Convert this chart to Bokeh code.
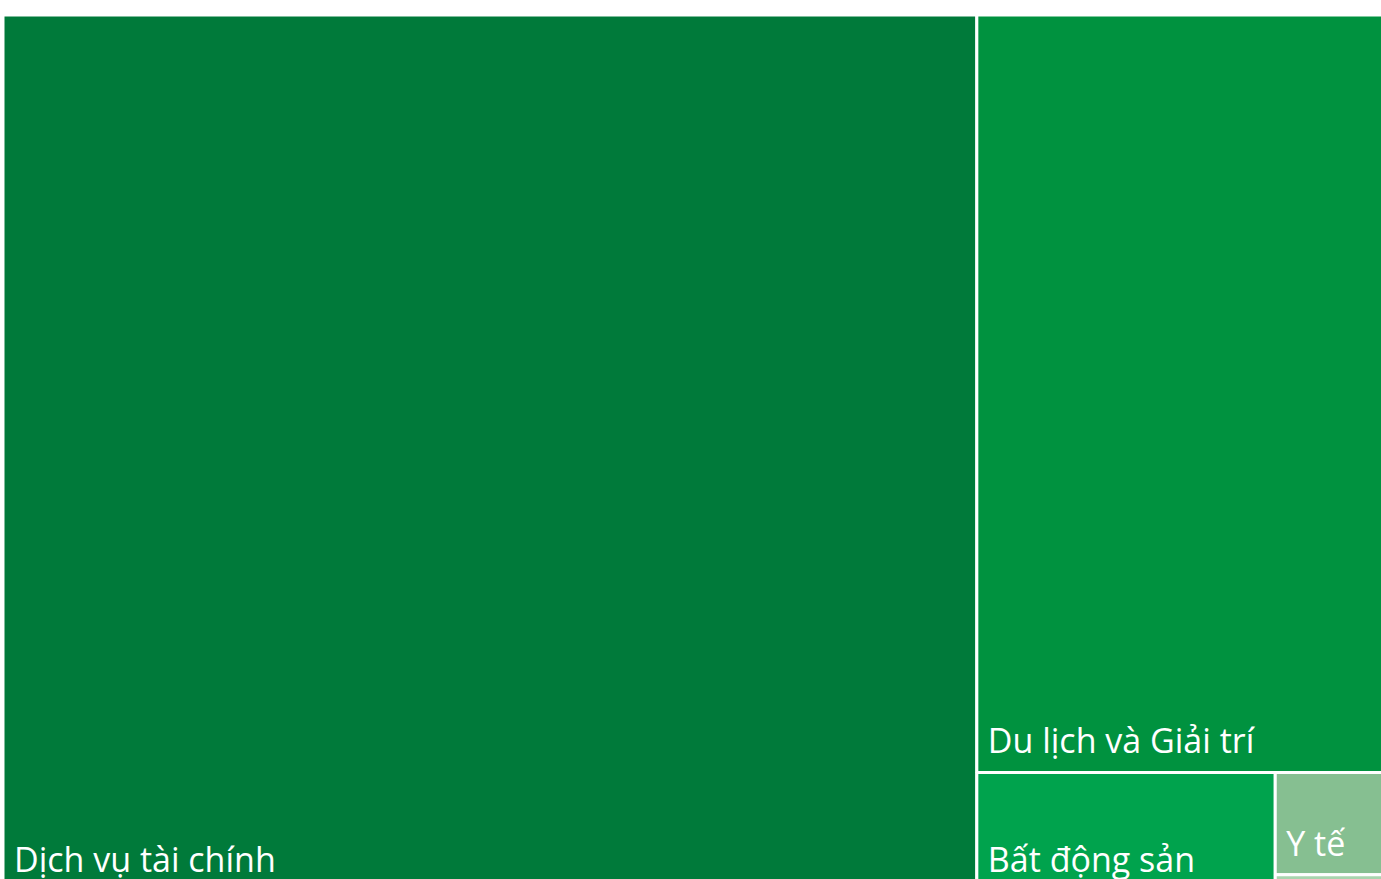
from bokeh.plotting import figure
from bokeh.models import ColumnDataSource, Range1d
from bokeh.core.properties import value
from bokeh.embed import file_html
from bokeh.resources import INLINE

# ---- data (share, %) ----
categories = ["Dịch vụ tài chính", "Du lịch và Giải trí", "Bất động sản", "Y tế", "Khác"]
shares = [70.2, 25.8, 2.9, 0.97, 0.15]
colors = ["#007a3a", "#00923f", "#00a34d", "#86bf91", "#a9d4ae"]

# ---- treemap layout (squarified) ----
BOX = (2.5, 14.5, 1390.0, 890.0)  # left, top, right, bottom (pixel-like units)


def worst(row, length):
    s = sum(row)
    if s == 0:
        return float("inf")
    mx, mn = max(row), min(row)
    return max(length * length * mx / (s * s), (s * s) / (length * length * mn))


def squarify(vals, x, y, w, h):
    rects = []
    vals = list(vals)
    while vals:
        length = min(w, h)
        row = [vals[0]]
        i = 1
        while i < len(vals) and worst(row + [vals[i]], length) <= worst(row, length):
            row.append(vals[i])
            i += 1
        s = sum(row)
        if w >= h:  # column on the left
            cw = s / h
            cy = y
            for v in row:
                rh = v / cw
                rects.append((x, cy, x + cw, cy + rh))
                cy += rh
            x += cw
            w -= cw
        else:  # row on top
            rh = s / w
            cx = x
            for v in row:
                rw = v / rh
                rects.append((cx, y, cx + rw, cy + rh) if False else (cx, y, cx + rw, y + rh))
                cx += rw
            y += rh
            h -= rh
        vals = vals[i:]
    return rects


x0, y0, x1, y1 = BOX
W, H = x1 - x0, y1 - y0
total = sum(shares)
areas = [v / total * W * H for v in shares]
rects = squarify(areas, x0, y0, W, H)

src = ColumnDataSource(dict(
    left=[r[0] for r in rects],
    top=[r[1] for r in rects],
    right=[r[2] for r in rects],
    bottom=[r[3] for r in rects],
    color=colors,
))

lab_x, lab_y, lab_t = [], [], []
for (l, t, r, b), name in zip(rects, categories):
    if b - t > 45 and r - l > 60:
        lab_x.append(l + 11)
        lab_y.append(b - 32)
        lab_t.append(name)
lab = ColumnDataSource(dict(x=lab_x, y=lab_y, text=lab_t))

p = figure(width=1381, height=879, output_backend="svg", toolbar_location=None,
           x_range=Range1d(0, 1381), y_range=Range1d(879, 0),
           min_border=0)
p.axis.visible = False
p.grid.visible = False
p.outline_line_color = None
p.background_fill_color = "white"
p.border_fill_color = "white"

p.quad(left="left", right="right", top="top", bottom="bottom", source=src,
       fill_color="color", line_color="white", line_width=3)

p.text(x="x", y="y", text="text", source=lab, text_color="white",
       text_font=value("Open Sans"), text_font_size="34px",
       text_baseline="alphabetic", text_align="left")

open("out.html", "w").write(file_html(p, INLINE))
